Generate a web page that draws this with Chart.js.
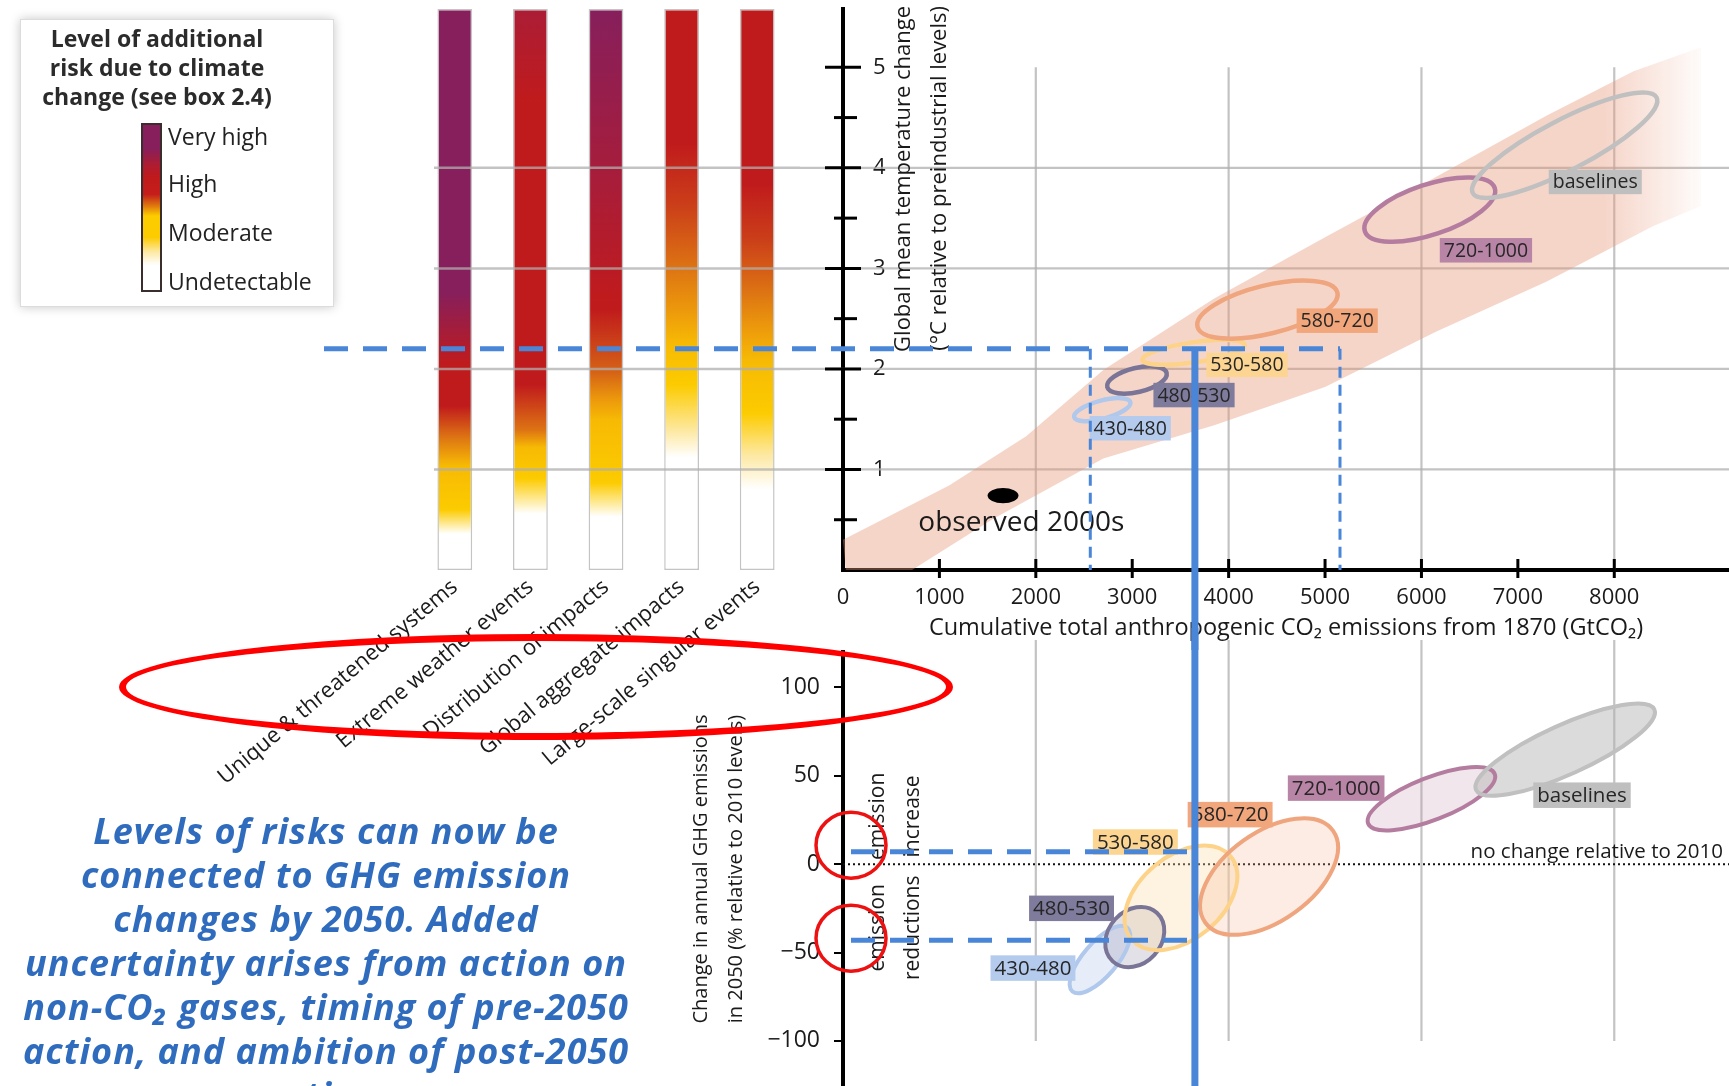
<!DOCTYPE html>
<html>
<head>
<meta charset="utf-8">
<title>Risk levels and GHG emissions</title>
<script src="https://cdn.jsdelivr.net/npm/chart.js@4.4.0/dist/chart.umd.min.js"></script>
<style>
  html, body { margin: 0; padding: 0; background: #fff; }
  body { width: 1729px; height: 1086px; position: relative; overflow: hidden; font-family: 'Open Sans', sans-serif; color: #222; }
  .box { position: absolute; }
  #riskBox { left: 0; top: 0; width: 800px; height: 800px; }
  #tempBox { left: 800px; top: 0; width: 929px; height: 650px; }
  #emisBox { left: 600px; top: 628px; width: 1129px; height: 458px; }
  .legend { position: absolute; left: 20px; top: 19px; width: 312px; height: 286px; background: #fff;
            border: 1px solid #dcdcdc; box-shadow: 0 0 10px rgba(0,0,0,0.22); z-index: 5; }
  .legend-title { position: absolute; left: -4px; top: 4px; width: 280px; text-align: center;
                  font-weight: 700; font-size: 23px; line-height: 29px; color: #2b2b2b; }
  .legend-bar { position: absolute; left: 120px; top: 103px; width: 17px; height: 165px; border: 2px solid #3a2d2d;
                background: linear-gradient(to bottom, #861f5c 0%, #861f5c 14%, #b01c2e 25%, #c01a1c 32%, #c41d1a 42%,
                            #e0780e 49%, #fccb00 55%, #fccb00 68%, #fde9a6 77%, #fff 85%, #fff 100%); }
  .legend-label { position: absolute; left: 147px; font-size: 23px; line-height: 26px; color: #222; }
  .message { position: absolute; left: 0; top: 809px; width: 652px; text-align: center; z-index: 4;
             font-weight: 700; font-style: italic; font-size: 36px; letter-spacing: 1px; line-height: 44px; color: #2f6cbe; }
  .highlight { position: absolute; left: 119px; top: 634px; width: 820px; height: 92px;
               border: 7px solid #f00; border-radius: 50%; z-index: 6; }
</style>
</head>
<body>

<div class="box" id="riskBox"><canvas id="riskChart"></canvas></div>
<div class="box" id="tempBox"><canvas id="tempChart"></canvas></div>
<div class="box" id="emisBox"><canvas id="emisChart"></canvas></div>

<div class="legend">
  <div class="legend-title">Level of additional<br>risk due to climate<br>change (see box 2.4)</div>
  <div class="legend-bar"></div>
  <div class="legend-label" style="top:103px">Very high</div>
  <div class="legend-label" style="top:150px">High</div>
  <div class="legend-label" style="top:199px">Moderate</div>
  <div class="legend-label" style="top:248px">Undetectable</div>
</div>

<div class="message">Levels of risks can now be<br>connected to GHG emission<br>changes by 2050. Added<br>uncertainty arises from action on<br>non-CO₂ gases, timing of pre-2050<br>action, and ambition of post-2050<br>action.</div>

<div class="highlight"></div>

<script>
// ---- data ----
const riskCategories = ['Unique & threatened systems', 'Extreme weather events', 'Distribution of impacts',
  'Global aggregate impacts', 'Large-scale singular events'];

// risk level by warming: [°C, level] with 0 undetectable, 1 moderate, 2 high, 3 very high
const riskUnique = [[0, 0], [0.36, 0], [0.6, 1], [1.04, 1.1], [1.32, 1.5], [1.63, 2], [2.04, 2], [2.76, 3], [5.58, 3]];
const riskExtreme = [[0, 0], [0.56, 0], [0.91, 1], [1.22, 1.1], [1.39, 1.5], [1.84, 2], [4.65, 2], [5.58, 2.4]];
const riskDistribution = [[0, 0], [0.53, 0], [0.87, 1], [1.49, 1.1], [1.7, 1.3], [1.97, 1.6], [2.59, 2], [2.66, 2], [3.97, 2.5], [5.58, 3]];
const riskGlobal = [[0, 0], [1.12, 0], [1.39, 0.6], [1.84, 1], [2.25, 1.1], [2.59, 1.3], [3.0, 1.5], [3.62, 1.8], [4.24, 2], [5.58, 2]];
const riskSingular = [[0, 0], [0.8, 0], [1.15, 0.6], [1.56, 1], [2.08, 1.1], [2.42, 1.3], [2.76, 1.5], [3.28, 1.8], [3.83, 2], [5.58, 2]];
const riskProfiles = [riskUnique, riskExtreme, riskDistribution, riskGlobal, riskSingular];

// axis ranges and ticks
const tempMin = 0, tempMax = 5.58;
const cumMin = 0, cumMax = 9190;
const emisMin = -125.5, emisMax = 120;
const tempTicks = [0.5, 1, 1.5, 2, 2.5, 3, 3.5, 4, 4.5, 5];
const cumTicks = [0, 1000, 2000, 3000, 4000, 5000, 6000, 7000, 8000];
const emisTicks = [-100, -50, 0, 50, 100];
const tempGridValues = [1, 2, 3, 4];
const cumGridValues = [2000, 4000, 6000, 8000];

// spread of model results (GtCO2, °C)
const bandUpper = [[0, 0.30], [1100, 0.84], [1900, 1.33], [2700, 1.99], [3850, 2.70], [5000, 3.31],
  [6150, 3.91], [7300, 4.52], [8200, 4.96], [8900, 5.2]];
const bandLower = [[8900, 3.62], [8400, 3.42], [7300, 2.87], [6150, 2.37], [5000, 1.82], [3850, 1.44],
  [2700, 1.11], [1560, 0.51], [650, -0.04], [60, -0.32]];

// scenario categories (ppm CO2-eq in 2100)
const scenarioNames = ['430-480', '480-530', '530-580', '580-720', '720-1000', 'baselines'];
// ellipse: [x1, y1, x2, y2, width across] in data units
const tempEllipses = [[2398, 1.52, 2981, 1.67, 0.18], [2741, 1.82, 3357, 1.96, 0.24], [3106, 2.09, 4168, 2.24, 0.2],
  [3677, 2.42, 5128, 2.76, 0.48], [5413, 3.37, 6760, 3.80, 0.5], [6532, 3.75, 8439, 4.70, 0.5]];
const tempLabelAt = [[2558, 1.41], [3220, 1.74], [3769, 2.04], [4705, 2.48], [6190, 3.18], [7320, 3.86]];
const emisEllipses = [[2380, -72, 2950, -36, 19], [2798, -55, 3255, -27.5, 30], [2992, -42.5, 4020, 4.4, 47],
  [3757, -33, 5082, 19, 50], [5447, 23, 6760, 51, 24], [6566, 42, 8416, 87.5, 28]];
const emisLabelAt = [[1530, -58.8], [1930, -25], [2592, 12.5], [3575, 28], [4614, 43], [7160, 39]];

const observed2000s = [1500, 0.74, 1820, 0.74, 0.15];
const observedLabelAt = [1850, 0.47];

// reading across the panels
const targetWarming = 2.2;
const cumEmisRange = [2565, 5155];
const cumEmisCentral = 3650;
const emisChangeRange = [-43, 7];
const circledChanges = [10.7, -41.9];

// ---- styles ----
const FONT = "'Open Sans', sans-serif";
const BLUE = '#4a86d8';
const GRID = 'rgba(175,175,175,0.75)';
const outlineColors = ['#b0c8ec', '#7a7597', '#fdd38a', '#efa57d', '#b47d9f', '#c0c0c0'];
const labelFills = ['#b4cbee', '#7f7b9c', '#fdd592', '#f1a67c', '#b985a6', '#bfbfbf'];
const areaFills = ['rgba(200,214,240,0.45)', 'rgba(125,118,152,0.22)', 'rgba(253,222,170,0.35)',
  'rgba(245,180,145,0.25)', 'rgba(190,140,170,0.22)', 'rgba(175,175,175,0.45)'];
const levelRamp = [[0, [255, 255, 255]], [0.6, [253, 232, 160]], [1, [252, 203, 0]], [1.3, [236, 152, 12]],
  [1.6, [213, 98, 22]], [2, [192, 27, 28]], [2.5, [166, 29, 60]], [3, [134, 31, 92]]];

Chart.defaults.font.family = FONT;
Chart.defaults.color = '#1a1a1a';

function levelToColor(level) {
  for (let i = 1; i < levelRamp.length; i++) {
    const [l0, c0] = levelRamp[i - 1];
    const [l1, c1] = levelRamp[i];
    if (level <= l1) {
      const f = (level - l0) / (l1 - l0);
      return 'rgb(' + c0.map((v, k) => Math.round(v + (c1[k] - v) * f)).join(',') + ')';
    }
  }
  return 'rgb(134,31,92)';
}

const useTicks = (values) => (s) => { s.ticks = values.map(value => ({ value })); };
// the label padding must not push the plot area in
const keepArea = (size) => (s) => {
  if (s.isHorizontal()) s.height = size; else s.width = size;
  s.paddingTop = s.paddingBottom = s.paddingLeft = s.paddingRight = 0;
};

function line(ctx, x1, y1, x2, y2) {
  ctx.beginPath(); ctx.moveTo(x1, y1); ctx.lineTo(x2, y2); ctx.stroke();
}

// ellipse given by its long axis (two data points) and its width across
function ellipsePath(chart, e) {
  const xs = chart.scales.x, ys = chart.scales.y;
  const px1 = xs.getPixelForValue(e[0]), py1 = ys.getPixelForValue(e[1]);
  const px2 = xs.getPixelForValue(e[2]), py2 = ys.getPixelForValue(e[3]);
  const rx = Math.hypot(px2 - px1, py2 - py1) / 2;
  const ry = Math.abs(ys.getPixelForValue(0) - ys.getPixelForValue(e[4])) / 2;
  const ctx = chart.ctx;
  ctx.beginPath();
  ctx.ellipse((px1 + px2) / 2, (py1 + py2) / 2, rx, ry, Math.atan2(py2 - py1, px2 - px1), 0, Math.PI * 2);
}

function labelBox(chart, text, at, fill, size) {
  const ctx = chart.ctx;
  const x = chart.scales.x.getPixelForValue(at[0]);
  const y = chart.scales.y.getPixelForValue(at[1]);
  ctx.font = size + 'px ' + FONT;
  const w = ctx.measureText(text).width + 8;
  const h = size + 5;
  ctx.fillStyle = fill;
  ctx.fillRect(x, y - h / 2, w, h);
  ctx.fillStyle = '#262626';
  ctx.textAlign = 'left';
  ctx.textBaseline = 'middle';
  ctx.fillText(text, x + 4, y + 1);
}

function rotatedText(ctx, text, x, y, align) {
  ctx.save();
  ctx.translate(x, y);
  ctx.rotate(-Math.PI / 2);
  ctx.textAlign = align;
  ctx.textBaseline = 'middle';
  ctx.fillText(text, 0, 0);
  ctx.restore();
}

const dashStart = 324;          // page x where the 2.2 °C dashed line starts
const dashPattern = [24, 15];

// ---- risk bars ----
const riskGridPlugin = {
  id: 'riskGrid',
  afterDatasetsDraw(chart) {
    const {ctx, chartArea} = chart;
    const ys = chart.scales.y;
    ctx.save();
    ctx.strokeStyle = GRID;
    ctx.lineWidth = 2.5;
    tempGridValues.forEach(v => {
      const y = ys.getPixelForValue(v);
      line(ctx, chartArea.left + 17, y, chart.width, y);
    });
    ctx.strokeStyle = BLUE;
    ctx.lineWidth = 5;
    ctx.setLineDash(dashPattern);
    const y = ys.getPixelForValue(targetWarming);
    line(ctx, dashStart, y, chart.width, y);
    ctx.restore();
  }
};

new Chart(document.getElementById('riskChart'), {
  type: 'bar',
  data: {
    labels: riskCategories,
    datasets: [{
      data: riskProfiles.map(p => p[p.length - 1][0]),
      backgroundColor: (c) => {
        const chart = c.chart;
        if (!chart.chartArea || c.dataIndex === undefined) return '#fff';
        const profile = riskProfiles[c.dataIndex];
        const top = profile[profile.length - 1][0];
        const ys = chart.scales.y;
        const g = chart.ctx.createLinearGradient(0, ys.getPixelForValue(0), 0, ys.getPixelForValue(top));
        profile.forEach(([t, lvl]) => g.addColorStop(t / top, levelToColor(lvl)));
        return g;
      },
      borderColor: '#c4c4c4',
      borderWidth: 1.5,
      borderSkipped: false,
      barPercentage: 0.46,
      categoryPercentage: 1
    }]
  },
  options: {
    responsive: true,
    maintainAspectRatio: false,
    animation: false,
    layout: { padding: { left: 417, right: 5, top: 9, bottom: 0 } },
    plugins: { legend: { display: false }, tooltip: { enabled: false } },
    scales: {
      x: {
        grid: { display: false },
        border: { display: false },
        ticks: { minRotation: 40, maxRotation: 40, autoSkip: false, padding: -4, color: '#1a1a1a', font: { size: 22 } },
        afterFit: keepArea(230)
      },
      y: { display: false, min: tempMin, max: tempMax }
    }
  },
  plugins: [riskGridPlugin]
});

// ---- temperature vs cumulative emissions ----
const tempPlugin = {
  id: 'tempDecor',
  beforeDatasetsDraw(chart) {
    const {ctx, chartArea} = chart;
    const xs = chart.scales.x, ys = chart.scales.y;
    ctx.save();
    ctx.strokeStyle = GRID;
    ctx.lineWidth = 2.2;
    cumGridValues.forEach(v => {
      const x = xs.getPixelForValue(v);
      line(ctx, x, ys.getPixelForValue(0), x, ys.getPixelForValue(5));
    });
    tempGridValues.forEach(v => {
      const y = ys.getPixelForValue(v);
      line(ctx, 0, y, chartArea.right, y);
    });
    ctx.restore();
  },
  afterDatasetsDraw(chart) {
    const {ctx, chartArea} = chart;
    ctx.save();
    ctx.lineWidth = 4.5;
    tempEllipses.forEach((e, i) => {
      ellipsePath(chart, e);
      ctx.strokeStyle = outlineColors[i];
      ctx.stroke();
    });
    scenarioNames.forEach((name, i) => labelBox(chart, name, tempLabelAt[i], labelFills[i], 19.5));

    ellipsePath(chart, observed2000s);
    ctx.fillStyle = '#000';
    ctx.fill();
    ctx.font = '28px ' + FONT;
    ctx.textAlign = 'center';
    ctx.textBaseline = 'middle';
    ctx.fillStyle = '#1a1a1a';
    ctx.fillText('observed 2000s', chart.scales.x.getPixelForValue(observedLabelAt[0]),
      chart.scales.y.getPixelForValue(observedLabelAt[1]));

    ctx.font = '22px ' + FONT;
    rotatedText(ctx, 'Global mean temperature change', chartArea.left + 61, 6, 'right');
    rotatedText(ctx, '(°C relative to preindustrial levels)', chartArea.left + 97, 6, 'right');
    ctx.restore();
  },
  afterDraw(chart) {
    const {ctx, chartArea} = chart;
    const xs = chart.scales.x, ys = chart.scales.y;
    ctx.save();
    // cross ticks on both axes
    ctx.strokeStyle = '#000';
    ctx.lineWidth = 3;
    ys.ticks.forEach(t => {
      const y = ys.getPixelForValue(t.value);
      const major = Number.isInteger(t.value);
      line(ctx, chartArea.left - (major ? 18 : 9), y, chartArea.left + (major ? 18 : 14), y);
    });
    xs.ticks.forEach(t => {
      if (t.value <= 0) return;
      const x = xs.getPixelForValue(t.value);
      line(ctx, x, chartArea.bottom - 11, x, chartArea.bottom + 8);
    });
    // reading lines
    const y22 = ys.getPixelForValue(targetWarming);
    ctx.strokeStyle = BLUE;
    ctx.lineWidth = 5;
    ctx.setLineDash(dashPattern);
    ctx.lineDashOffset = (800 - dashStart) % (dashPattern[0] + dashPattern[1]);
    line(ctx, 0, y22, xs.getPixelForValue(cumEmisRange[1]), y22);
    ctx.lineDashOffset = 0;
    ctx.lineWidth = 3;
    ctx.setLineDash([11, 7]);
    cumEmisRange.forEach(v => {
      const x = xs.getPixelForValue(v);
      line(ctx, x, y22, x, ys.getPixelForValue(0));
    });
    ctx.setLineDash([]);
    ctx.lineWidth = 7;
    const xc = xs.getPixelForValue(cumEmisCentral);
    line(ctx, xc, y22, xc, chart.height);
    ctx.restore();
  }
};

new Chart(document.getElementById('tempChart'), {
  type: 'scatter',
  data: {
    datasets: [{
      type: 'line',
      data: bandUpper.concat(bandLower).map(([x, y]) => ({ x, y })),
      fill: 'shape',
      clip: false,
      borderWidth: 0,
      pointRadius: 0,
      tension: 0,
      backgroundColor: (c) => {
        const chart = c.chart;
        if (!chart.chartArea) return 'rgba(232,150,120,0.4)';
        const xs = chart.scales.x;
        const g = chart.ctx.createLinearGradient(xs.getPixelForValue(7900), 0, xs.getPixelForValue(9000), 0);
        g.addColorStop(0, 'rgba(232,150,120,0.4)');
        g.addColorStop(1, 'rgba(232,150,120,0)');
        return g;
      }
    }]
  },
  options: {
    responsive: true,
    maintainAspectRatio: false,
    animation: false,
    layout: { padding: { left: 0, right: 0, top: 9, bottom: 0 } },
    plugins: { legend: { display: false }, tooltip: { enabled: false } },
    scales: {
      x: {
        type: 'linear', min: cumMin, max: cumMax,
        grid: { display: false },
        border: { display: true, color: '#000', width: 4 },
        ticks: {
          padding: 7, maxRotation: 0, autoSkip: false, color: '#1a1a1a', font: { size: 22 },
          callback: (v) => String(v)
        },
        afterBuildTicks: useTicks(cumTicks),
        title: {
          display: true,
          text: 'Cumulative total anthropogenic CO₂ emissions from 1870 (GtCO₂)',
          color: '#1a1a1a', font: { size: 23.5 }, padding: { top: 4, bottom: 8 }
        },
        afterFit: keepArea(80)
      },
      y: {
        min: tempMin, max: tempMax,
        grid: { display: false },
        border: { display: true, color: '#000', width: 4 },
        ticks: {
          mirror: true, padding: 30, autoSkip: false, color: '#1a1a1a', font: { size: 22 },
          callback: (v) => (Number.isInteger(v) ? String(v) : '')
        },
        afterBuildTicks: useTicks(tempTicks),
        afterFit: keepArea(43)
      }
    }
  },
  plugins: [tempPlugin]
});

// ---- change in 2050 emissions vs cumulative emissions ----
const emisPlugin = {
  id: 'emisDecor',
  beforeDatasetsDraw(chart) {
    const {ctx, chartArea} = chart;
    const xs = chart.scales.x, ys = chart.scales.y;
    ctx.save();
    ctx.strokeStyle = GRID;
    ctx.lineWidth = 2.2;
    cumGridValues.forEach(v => {
      const x = xs.getPixelForValue(v);
      line(ctx, x, chartArea.top - 12, x, ys.getPixelForValue(-100));
    });
    ctx.restore();
  },
  afterDatasetsDraw(chart) {
    const {ctx, chartArea} = chart;
    const ys = chart.scales.y;
    const y0 = ys.getPixelForValue(0);
    ctx.save();
    ctx.strokeStyle = '#111';
    ctx.lineWidth = 2;
    ctx.setLineDash([2, 3]);
    line(ctx, chartArea.left, y0, chartArea.right, y0);
    ctx.setLineDash([]);
    ctx.font = '20.5px ' + FONT;
    ctx.fillStyle = '#1a1a1a';
    ctx.textAlign = 'right';
    ctx.textBaseline = 'bottom';
    ctx.fillText('no change relative to 2010', chartArea.right - 6, y0 - 2);

    emisEllipses.forEach((e, i) => {
      ellipsePath(chart, e);
      ctx.fillStyle = areaFills[i];
      ctx.fill();
    });
    ctx.lineWidth = 4;
    emisEllipses.forEach((e, i) => {
      ellipsePath(chart, e);
      ctx.strokeStyle = outlineColors[i];
      ctx.stroke();
    });
    scenarioNames.forEach((name, i) => labelBox(chart, name, emisLabelAt[i], labelFills[i], 20.5));

    ctx.font = '21px ' + FONT;
    ctx.fillStyle = '#1a1a1a';
    const up = ys.getPixelForValue(27), down = ys.getPixelForValue(-36);
    rotatedText(ctx, 'emission', chartArea.left + 35, up, 'center');
    rotatedText(ctx, 'increase', chartArea.left + 70, up, 'center');
    rotatedText(ctx, 'emission', chartArea.left + 35, down, 'center');
    rotatedText(ctx, 'reductions', chartArea.left + 70, down, 'center');
    ctx.restore();
  },
  afterDraw(chart) {
    const {ctx, chartArea} = chart;
    const xs = chart.scales.x, ys = chart.scales.y;
    const xc = xs.getPixelForValue(cumEmisCentral);
    ctx.save();
    ctx.strokeStyle = BLUE;
    ctx.lineWidth = 5;
    ctx.setLineDash(dashPattern);
    emisChangeRange.forEach(v => {
      const y = ys.getPixelForValue(v);
      line(ctx, chartArea.left + 8, y, xc, y);
    });
    ctx.setLineDash([]);
    ctx.lineWidth = 7;
    line(ctx, xc, 0, xc, chart.height);
    ctx.strokeStyle = '#ee1111';
    ctx.lineWidth = 3.5;
    circledChanges.forEach(v => {
      ctx.beginPath();
      ctx.ellipse(chartArea.left + 8, ys.getPixelForValue(v), 35, 33, 0, 0, Math.PI * 2);
      ctx.stroke();
    });
    ctx.restore();
  }
};

new Chart(document.getElementById('emisChart'), {
  type: 'scatter',
  data: { datasets: [] },
  options: {
    responsive: true,
    maintainAspectRatio: false,
    animation: false,
    layout: { padding: { left: 80, right: 0, top: 24, bottom: 0 } },
    plugins: { legend: { display: false }, tooltip: { enabled: false } },
    scales: {
      x: { type: 'linear', min: cumMin, max: cumMax, display: false },
      y: {
        min: emisMin, max: emisMax,
        grid: { display: true, drawOnChartArea: false, drawTicks: true, tickLength: 9, color: '#000', lineWidth: 2 },
        border: { display: true, color: '#000', width: 4 },
        ticks: {
          padding: 14, autoSkip: false, color: '#1a1a1a', font: { size: 23 },
          callback: (v) => (v < 0 ? '\u2212' + Math.abs(v) : String(v))
        },
        afterBuildTicks: useTicks(emisTicks),
        title: {
          display: true,
          text: ['Change in annual GHG emissions', 'in 2050 (% relative to 2010 levels)'],
          color: '#1a1a1a', font: { size: 20, lineHeight: 1.75 }, padding: { top: 4, bottom: 0 }
        },
        afterFit: keepArea(163)
      }
    }
  },
  plugins: [emisPlugin]
});
</script>
</body>
</html>
